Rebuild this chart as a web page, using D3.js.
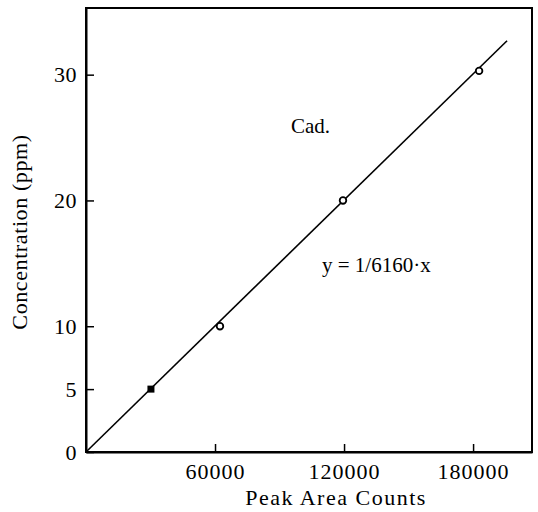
<!DOCTYPE html>
<html>
<head>
<meta charset="utf-8">
<script src="https://cdn.jsdelivr.net/npm/d3@7"></script>
<style>
  html, body { margin: 0; padding: 0; background: #fff; }
  text { font-family: "Liberation Serif", "Times New Roman", serif; fill: #000; }
</style>
</head>
<body>
<svg id="chart" width="538" height="512"></svg>
<script>
// ---- data ----
const peakArea = [30200, 62300, 119500, 182800];
const concentration = [5, 10, 20, 30.3];
const markerType = ["square", "circle", "circle", "circle"];
const fitX = [0, 195800];
const fitY = [0, 32.7];
const xTicks = [60000, 120000, 180000];
const yTicks = [0, 5, 10, 20, 30];
const xLabel = "Peak Area Counts";
const yLabel = "Concentration (ppm)";
const seriesLabel = "Cad.";
const equationLabel = "y = 1/6160\u00b7x";

const svg = d3.select("#chart");
const margin = { left: 86, right: 6, top: 8, bottom: 60 };
const W = 538, H = 512;
const x = d3.scaleLinear().domain([0, 207400]).range([margin.left, W - margin.right]);
const y = d3.scaleLinear().domain([0, 35.3]).range([H - margin.bottom, margin.top]);

// frame
svg.append("rect")
  .attr("x", x(0)).attr("y", y(35.3))
  .attr("width", x(207400) - x(0)).attr("height", y(0) - y(35.3))
  .attr("fill", "none").attr("stroke", "#000").attr("stroke-width", 2);

// axes
const xAxis = d3.axisBottom(x).tickValues(xTicks).tickSizeInner(-8).tickSizeOuter(0).tickPadding(11).tickFormat(d3.format("d"));
const gx = svg.append("g").attr("transform", `translate(0,${y(0)})`).call(xAxis);
gx.select(".domain").attr("stroke-width", 2);
gx.selectAll(".tick line").attr("stroke-width", 1.5);
gx.selectAll(".tick text").style("font-size", "22px").style("letter-spacing", "1px").attr("dy", "0.71em");

const yAxis = d3.axisLeft(y).tickValues(yTicks).tickSizeInner(-8).tickSizeOuter(0).tickPadding(9).tickFormat(d3.format("d"));
const gy = svg.append("g").attr("transform", `translate(${x(0)},0)`).call(yAxis);
gy.select(".domain").attr("stroke-width", 2);
gy.selectAll(".tick line").attr("stroke-width", 1.5);
gy.selectAll(".tick text").style("font-size", "22px").style("letter-spacing", "0.5px");

// fit line
const line = d3.line().x(d => x(d[0])).y(d => y(d[1]));
svg.append("path")
  .datum(fitX.map((v, i) => [v, fitY[i]]))
  .attr("d", line).attr("fill", "none").attr("stroke", "#000").attr("stroke-width", 1.6);

// points
const pts = peakArea.map((v, i) => ({ x: v, y: concentration[i], t: markerType[i] }));
svg.selectAll("rect.pt").data(pts.filter(d => d.t === "square")).enter().append("rect")
  .attr("class", "pt")
  .attr("x", d => x(d.x) - 3.5).attr("y", d => y(d.y) - 3.5)
  .attr("width", 7).attr("height", 7).attr("fill", "#000");
svg.selectAll("circle.pt").data(pts.filter(d => d.t === "circle")).enter().append("circle")
  .attr("class", "pt")
  .attr("cx", d => x(d.x)).attr("cy", d => y(d.y)).attr("r", 3.3)
  .attr("fill", "#fff").attr("stroke", "#000").attr("stroke-width", 1.8);

// labels
svg.append("text").attr("x", 336).attr("y", 505)
  .attr("text-anchor", "middle").style("font-size", "22px").style("letter-spacing", "1.5px").text(xLabel);
svg.append("text").attr("transform", `translate(27,232) rotate(-90)`)
  .attr("text-anchor", "middle").style("font-size", "22px").style("letter-spacing", "0.6px").text(yLabel);
svg.append("text").attr("x", 291).attr("y", 133).style("font-size", "21px").text(seriesLabel);
svg.append("text").attr("x", 322).attr("y", 272).style("font-size", "21px").text(equationLabel);
</script>
</body>
</html>
